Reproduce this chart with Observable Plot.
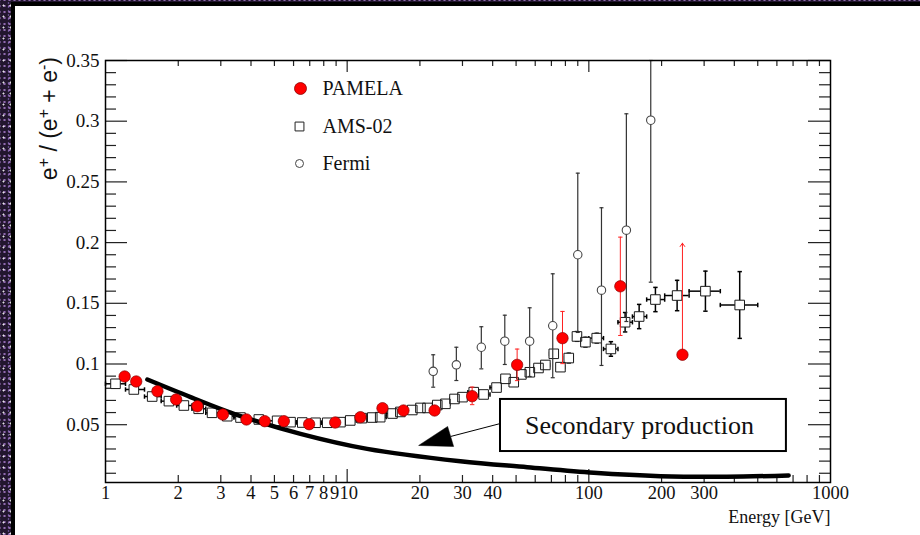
<!DOCTYPE html>
<html>
<head>
<meta charset="utf-8">
<script src="https://cdn.jsdelivr.net/npm/d3@7"></script>
<script src="https://cdn.jsdelivr.net/npm/@observablehq/plot@0.6"></script>
<style>
html,body{margin:0;padding:0;width:920px;height:535px;overflow:hidden;}
body{
  background-color:#22162e;
  background-image:
    radial-gradient(circle, rgba(255,255,255,0.85) 0.7px, transparent 1.3px),
    radial-gradient(circle, rgba(190,140,230,0.7) 0.8px, transparent 1.5px),
    radial-gradient(circle, rgba(140,110,200,0.6) 0.6px, transparent 1.2px);
  background-size:7px 11px, 5px 6px, 9px 4px;
  background-position:0 0, 2px 3px, 4px 1px;
}
#panel{position:absolute;left:11px;top:2px;width:905px;height:529px;background:#fff;border-left:4px solid #000;border-top:4px solid #000;}
#chart{position:absolute;left:0;top:0;z-index:1;}
</style>
</head>
<body>
<div id="panel"></div>
<div id="chart"></div>
<script>
// ---------- PAMELA ----------
const pamelaE = [1.20, 1.34, 1.64, 1.96, 2.40, 3.06, 3.83, 4.56, 5.47, 6.96, 8.92, 11.35, 14.0, 17.1, 23.0, 32.9, 50.5, 77.8, 135, 244];
const pamelaV = [0.0897, 0.0856, 0.0776, 0.0708, 0.0652, 0.0584, 0.0543, 0.0529, 0.0529, 0.0504, 0.0518, 0.0562, 0.0636, 0.0617, 0.0617, 0.0735, 0.0993, 0.1213, 0.164, 0.1076];
const pamelaUp   = [0.002, 0.002, 0.002, 0.002, 0.002, 0.002, 0.002, 0.002, 0.002, 0.002, 0.002, 0.002, 0.002, 0.002, 0.002, 0.0075, 0.013, 0.022, 0.0405, 0];
const pamelaDown = [0.002, 0.002, 0.002, 0.002, 0.002, 0.002, 0.002, 0.002, 0.002, 0.002, 0.002, 0.002, 0.002, 0.002, 0.002, 0.007, 0.013, 0.021, 0.0405, 0.002];
const pamelaLimitE = [244];
const pamelaLimitV = [0.1995];

// ---------- AMS-02 ----------
const amsE = [1.10, 1.31, 1.56, 1.83, 2.11, 2.43, 2.76, 3.19, 3.62, 4.31,
  5.13, 5.83, 6.52, 7.40, 8.27, 9.38, 10.3, 11.5, 12.7, 13.7,
  15.4, 16.6, 18.6, 20.1, 21.5, 23.6, 25.5, 27.8, 30.0, 33.4,
  36.7, 41.5, 45.2, 48.9, 52.6, 57.0, 61.9, 66.1, 71.6, 76.3,
  82.6, 89.3, 96.8, 107.8, 123.4, 141.3, 161.5, 188.6, 231.9, 303.7, 421];
const amsV = [0.0837, 0.0790, 0.0732, 0.0694, 0.0658, 0.0631, 0.0598, 0.0570, 0.0559, 0.0543,
  0.0532, 0.0521, 0.0518, 0.0516, 0.0516, 0.0521, 0.0535, 0.0554, 0.0559, 0.0562,
  0.0592, 0.0605, 0.0621, 0.0638, 0.0638, 0.0662, 0.0672, 0.0712, 0.0727, 0.0768,
  0.0749, 0.0806, 0.0878, 0.0850, 0.0914, 0.0932, 0.0967, 0.0992, 0.1084, 0.0974,
  0.1049, 0.1227, 0.1180, 0.1213, 0.1124, 0.1344, 0.1391, 0.1531, 0.1564, 0.1600, 0.1486];
const amsErr = [0.001, 0.001, 0.001, 0.001, 0.001, 0.001, 0.001,
  0.001, 0.001, 0.001, 0.001, 0.001, 0.001, 0.001,
  0.001, 0.001, 0.001, 0.001, 0.001, 0.001, 0.001,
  0.001, 0.001, 0.001, 0.001, 0.001, 0.001, 0.001,
  0.002, 0.002, 0.002, 0.002, 0.002, 0.002, 0.002,
  0.003, 0.003, 0.003, 0.003, 0.003,
  0.004, 0.004, 0.004, 0.004,
  0.006, 0.008, 0.010, 0.010, 0.0125, 0.0165, 0.0275];
const amsEdges = [1.00, 1.21, 1.45, 1.70, 1.97, 2.28, 2.60, 2.94, 3.40, 3.90,
  4.70, 5.50, 6.15, 6.95, 7.80, 8.80, 9.85, 10.9, 12.1, 13.2,
  14.5, 16.0, 17.6, 19.4, 20.8, 22.5, 24.6, 26.6, 28.9, 31.6,
  35.0, 39.0, 43.3, 47.0, 50.7, 54.7, 59.3, 64.0, 68.8, 73.9,
  79.4, 86.0, 93.0, 100, 115, 132, 151.5, 173.5, 206, 260, 350, 500];

// ---------- Fermi ----------
const fermiE  = [22.7, 28.3, 35.9, 44.9, 56.9, 70.9, 90.0, 112.8, 143, 180.4];
const fermiV  = [0.094, 0.0993, 0.1138, 0.1188, 0.1188, 0.1315, 0.190, 0.1608, 0.2102, 0.3008];
const fermiLo = [0.0809, 0.0864, 0.096, 0.0996, 0.0897, 0.0887, 0.126, 0.0988, 0.135, 0.1674];
const fermiHi = [0.1076, 0.1138, 0.1307, 0.1402, 0.1463, 0.1743, 0.2572, 0.2287, 0.3061, 0.35];

// ---------- Secondary production curve ----------
const secE = [1.49, 2.25, 3.40, 6.41, 12.1, 29.4, 55.6, 104.8, 197.8, 373, 671];
const secV = [0.0872, 0.0727, 0.0590, 0.0425, 0.0301, 0.0199, 0.0150, 0.0104, 0.0076, 0.0071, 0.0082];

// ---------- annotation (data coordinates) ----------
const noteLabel = "Secondary production";
const noteBoxX = [43.1, 657];
const noteBoxY = [0.0279, 0.0708];
const noteTextAt = [162, 0.0489];
const noteLineFrom = [43.1, 0.0510];
const noteLineTo = [26.8, 0.0403];

// ---------- axes ----------
const xLabels = [1, 2, 3, 4, 5, 6, 7, 8, 9, 10, 20, 30, 40, 100, 200, 300, 1000];
const xLabelNudge = [0, 0, 0, 0, 0, 0, 0, 0, -1.5, 1.5, 0, 0, 0, 0, 0, 0, 0];
const xMajor = [10, 100];
const xMinor = [2, 3, 4, 5, 6, 7, 8, 9, 20, 30, 40, 50, 60, 70, 80, 90, 200, 300, 400, 500, 600, 700, 800, 900];
const yLabels = [0.05, 0.1, 0.15, 0.2, 0.25, 0.3, 0.35];
const yMinor = d3.range(1, 35).filter(i => i % 5 !== 0).map(i => i / 100);
const xTitle = "Energy [GeV]";

// ---------- legend ----------
const legendNames = ["PAMELA", "AMS-02", "Fermi"];

// ---------- tables ----------
const pamela = pamelaE.map((E, i) => ({E, v: pamelaV[i], lo: pamelaV[i] - pamelaDown[i], hi: pamelaV[i] + pamelaUp[i]}));
const pamelaLimit = pamelaLimitE.map((E, i) => ({E, v: pamela.find(d => d.E === E).v, top: pamelaLimitV[i]}));
const ams = amsE.map((E, i) => ({E, v: amsV[i], lo: amsEdges[i], hi: amsEdges[i + 1], ylo: amsV[i] - amsErr[i], yhi: amsV[i] + amsErr[i]}));
const fermi = fermiE.map((E, i) => ({E, v: fermiV[i], lo: fermiLo[i], hi: fermiHi[i]}));
const sec = secE.map((E, i) => ({E, v: secV[i]}));
const xLab = xLabels.map((E, i) => ({E, nudge: xLabelNudge[i]}));

const W = 920, H = 535, mT = 60, mB = 53, mL = 105, mR = 90;
const FH = H - mT - mB, FW = W - mL - mR;
const serif = "'Liberation Serif','Times New Roman',Times,serif";

const capH = {draw(ctx, size) { const r = Math.sqrt(size / Math.PI); ctx.moveTo(-r, 0); ctx.lineTo(r, 0); }};
const capV = {draw(ctx, size) { const r = Math.sqrt(size / Math.PI); ctx.moveTo(0, -r); ctx.lineTo(0, r); }};
const headSym = {draw(ctx) { ctx.moveTo(-32, 9); ctx.lineTo(-3, -10); ctx.lineTo(3, 10); ctx.closePath(); }};

const tickStroke = "#222";
const legendMarks = [];
const legendDy = [28, 66, 103];
legendNames.forEach((name, i) => {
  legendMarks.push(Plot.text([name], {text: d => d, frameAnchor: "top-left", dx: 217, dy: legendDy[i], textAnchor: "start", lineAnchor: "middle", fontSize: 20, fontFamily: serif, fill: "#111"}));
});
legendMarks.push(Plot.dot([0], {frameAnchor: "top-left", dx: 195, dy: legendDy[0], r: 6, fill: "#ff0000", stroke: "#8a0000", strokeWidth: 0.8}));
legendMarks.push(Plot.dot([0], {frameAnchor: "top-left", dx: 194, dy: legendDy[1], r: 5, symbol: "square", fill: "white", stroke: "#222", strokeWidth: 1}));
legendMarks.push(Plot.dot([0], {frameAnchor: "top-left", dx: 194, dy: legendDy[2], r: 4, fill: "white", stroke: "#444", strokeWidth: 1}));

const xLabelMarks = xLab.map(d => Plot.text([d], {x: "E", text: e => String(e.E), frameAnchor: "bottom", dy: 11, dx: d.nudge, lineAnchor: "middle", fontSize: 18.5, fontFamily: serif, fill: "#111"}));

const chart = Plot.plot({
  width: W, height: H,
  marginTop: mT, marginBottom: mB, marginLeft: mL, marginRight: mR,
  style: {background: "transparent", overflow: "visible"},
  x: {type: "log", domain: [1, 1000], axis: null},
  y: {domain: [0.35 - FH / 1214, 0.35], axis: null},
  marks: [
    // ticks (inside frame)
    Plot.tickX(xMinor, {x: d => d, insetTop: FH - 7, stroke: tickStroke, strokeWidth: 1.2}),
    Plot.tickX(xMajor, {x: d => d, insetTop: FH - 13, stroke: tickStroke, strokeWidth: 1.2}),
    Plot.tickX(xMinor, {x: d => d, insetBottom: FH - 6, stroke: tickStroke, strokeWidth: 1.2}),
    Plot.tickX(xMajor, {x: d => d, insetBottom: FH - 12, stroke: tickStroke, strokeWidth: 1.2}),
    Plot.tickY(yMinor, {y: d => d, insetRight: FW - 11, stroke: tickStroke, strokeWidth: 1.2}),
    Plot.tickY(yLabels, {y: d => d, insetRight: FW - 22, stroke: tickStroke, strokeWidth: 1.2}),
    Plot.tickY(yMinor, {y: d => d, insetLeft: FW - 11, stroke: tickStroke, strokeWidth: 1.2}),
    Plot.tickY(yLabels, {y: d => d, insetLeft: FW - 22, stroke: tickStroke, strokeWidth: 1.2}),

    // AMS-02 error bars
    Plot.ruleY(ams, {y: "v", x1: "lo", x2: "hi", stroke: "black", strokeWidth: 1.5}),
    Plot.ruleX(ams, {x: "E", y1: "ylo", y2: "yhi", stroke: "black", strokeWidth: 1.5}),
    Plot.dot(ams, {x: "lo", y: "v", symbol: capV, r: 2.2, fill: "none", stroke: "black", strokeWidth: 1.5}),
    Plot.dot(ams, {x: "hi", y: "v", symbol: capV, r: 2.2, fill: "none", stroke: "black", strokeWidth: 1.5}),
    Plot.dot(ams, {x: "E", y: "ylo", symbol: capH, r: 2.2, fill: "none", stroke: "black", strokeWidth: 1.5}),
    Plot.dot(ams, {x: "E", y: "yhi", symbol: capH, r: 2.2, fill: "none", stroke: "black", strokeWidth: 1.5}),
    // AMS-02 squares: white body, then outlines
    Plot.dot(ams, {x: "E", y: "v", symbol: "square", r: 5.4, fill: "white", stroke: "none"}),
    Plot.dot(ams, {x: "E", y: "v", symbol: "square", r: 5.4, fill: "none", stroke: "#1a1a1a", strokeWidth: 1}),

    // Secondary production curve
    Plot.line(sec, {x: "E", y: "v", curve: "catmull-rom", stroke: "black", strokeWidth: 4.5, strokeLinecap: "round"}),

    // annotation
    Plot.link([0], {x1: () => noteLineFrom[0], y1: () => noteLineFrom[1], x2: () => noteLineTo[0], y2: () => noteLineTo[1], stroke: "black", strokeWidth: 1}),
    Plot.dot([0], {x: () => noteLineTo[0], y: () => noteLineTo[1], symbol: headSym, fill: "black", stroke: "black", strokeWidth: 0.5}),
    Plot.rect([0], {x1: () => noteBoxX[0], x2: () => noteBoxX[1], y1: () => noteBoxY[0], y2: () => noteBoxY[1], fill: "white", stroke: "black", strokeWidth: 2}),
    Plot.text([noteLabel], {x: () => noteTextAt[0], y: () => noteTextAt[1], text: d => d, fontSize: 26, fontFamily: serif, fill: "#111"}),

    // Fermi
    Plot.ruleX(fermi, {x: "E", y1: "lo", y2: "hi", stroke: "#333", strokeWidth: 1.2}),
    Plot.dot(fermi, {x: "E", y: "lo", symbol: capH, r: 2, fill: "none", stroke: "#333", strokeWidth: 1.2}),
    Plot.dot(fermi, {x: "E", y: "hi", symbol: capH, r: 2, fill: "none", stroke: "#333", strokeWidth: 1.2}),
    Plot.dot(fermi, {x: "E", y: "v", r: 4.2, fill: "white", stroke: "#444", strokeWidth: 1.1}),

    // PAMELA
    Plot.ruleX(pamela, {x: "E", y1: "lo", y2: "hi", stroke: "#ff2020", strokeWidth: 1}),
    Plot.dot(pamela, {x: "E", y: "lo", symbol: capH, r: 2.2, fill: "none", stroke: "#ff2020", strokeWidth: 1}),
    Plot.dot(pamela.filter(d => d.hi > d.v), {x: "E", y: "hi", symbol: capH, r: 2.2, fill: "none", stroke: "#ff2020", strokeWidth: 1}),
    Plot.arrow(pamelaLimit, {x1: "E", y1: "v", x2: "E", y2: "top", stroke: "#ff2020", strokeWidth: 1, headLength: 6, headAngle: 70}),
    Plot.dot(pamela, {x: "E", y: "v", r: 5.7, fill: "#ff0000", stroke: "#8a0000", strokeWidth: 0.7}),

    ...legendMarks,

    // tick labels
    ...xLabelMarks,
    Plot.text(yLabels, {y: d => d, text: d => String(d), frameAnchor: "left", dx: -6, textAnchor: "end", lineAnchor: "middle", fontSize: 19, fontFamily: serif, fill: "#111"}),
    Plot.text([xTitle], {text: d => d, frameAnchor: "bottom-right", dy: 35, textAnchor: "end", lineAnchor: "middle", fontSize: 18, fontFamily: serif, fill: "#111"}),

    Plot.frame({stroke: "black", strokeWidth: 1.5})
  ]
});
document.getElementById("chart").appendChild(chart);

// y-axis title with real superscripts
const t = d3.select(chart).append("text")
  .attr("transform", "translate(57,57) rotate(-90)")
  .attr("text-anchor", "end")
  .attr("font-family", "'Liberation Sans',Arial,Helvetica,sans-serif")
  .attr("font-size", 23)
  .attr("fill", "#111");
t.append("tspan").text("e");
t.append("tspan").attr("dy", -8).attr("font-size", 16).text("+");
t.append("tspan").attr("dy", 8).text(" / (e");
t.append("tspan").attr("dy", -8).attr("font-size", 16).text("+");
t.append("tspan").attr("dy", 8).text(" + e");
t.append("tspan").attr("dy", -8).attr("font-size", 16).text("-");
t.append("tspan").attr("dy", 8).text(")");
</script>
</body>
</html>
